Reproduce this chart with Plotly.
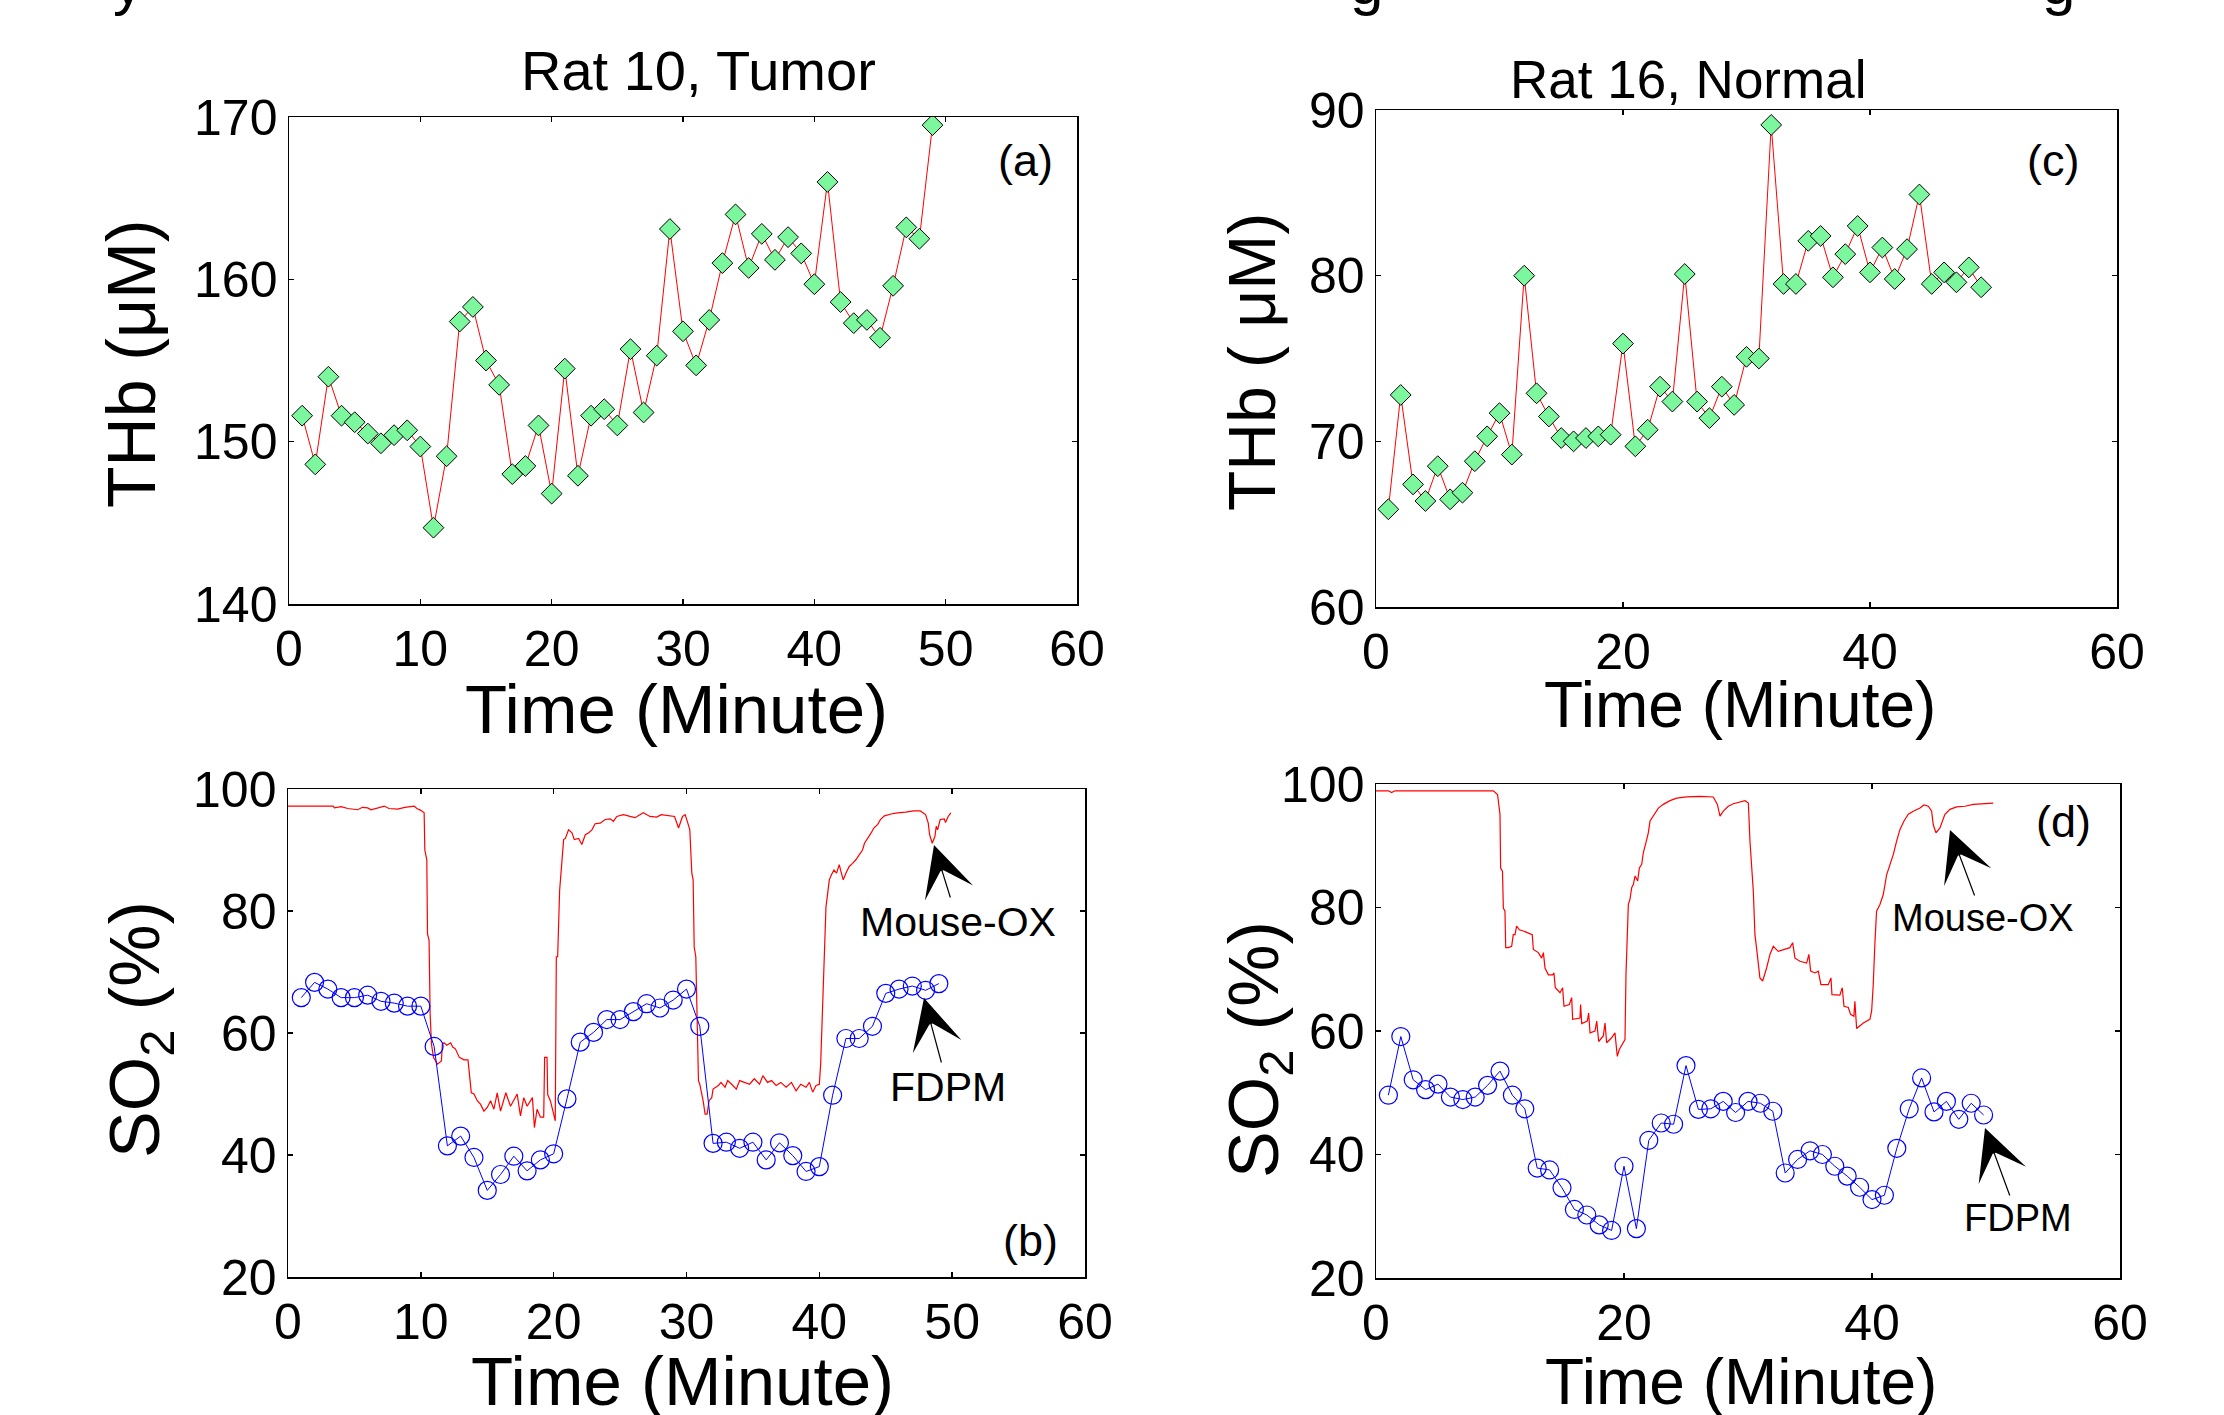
import plotly.graph_objects as go

W, H = 2224, 1415
FONT = "Liberation Sans, Arial, sans-serif"

# ---------------- data ----------------
minutes = [1, 2, 3, 4, 5, 6, 7, 8, 9, 10, 11, 12, 13, 14, 15, 16, 17, 18, 19, 20,
           21, 22, 23, 24, 25, 26, 27, 28, 29, 30, 31, 32, 33, 34, 35, 36, 37, 38, 39, 40,
           41, 42, 43, 44, 45, 46, 47, 48, 49]

thb_rat10_tumor = [151.6, 148.6, 154.0, 151.6, 151.2, 150.5, 149.9, 150.4, 150.7, 149.7,
                   144.7, 149.1, 157.4, 158.3, 155.0, 153.5, 148.0, 148.5, 151.0, 146.8,
                   154.5, 147.9, 151.6, 152.0, 151.0, 155.7, 151.8, 155.3, 163.1, 156.8,
                   154.7, 157.5, 161.0, 164.0, 160.7, 162.8, 161.2, 162.6, 161.6, 159.7,
                   166.0, 158.6, 157.3, 157.5, 156.4, 159.6, 163.2, 162.5, 169.5]

thb_rat16_normal = [65.9, 72.8, 67.4, 66.4, 68.5, 66.5, 66.9, 68.8, 70.3, 71.7,
                    69.2, 80.0, 72.9, 71.5, 70.2, 70.0, 70.2, 70.3, 70.4, 75.9,
                    69.7, 70.7, 73.3, 72.4, 80.1, 72.4, 71.4, 73.3, 72.2, 75.1,
                    75.0, 89.1, 79.5, 79.5, 82.1, 82.4, 79.9, 81.3, 83.0, 80.2,
                    81.7, 79.8, 81.6, 84.9, 79.5, 80.2, 79.6, 80.5, 79.3]

so2_fdpm_tumor = [65.8, 68.3, 67.2, 65.8, 65.8, 66.2, 65.2, 64.9, 64.4, 64.4,
                  57.8, 41.5, 43.1, 39.6, 34.2, 36.8, 39.8, 37.4, 39.2, 40.2,
                  49.2, 58.5, 60.1, 62.2, 62.2, 63.5, 64.8, 64.1, 65.4, 67.2,
                  61.1, 41.9, 42.1, 41.1, 42.1, 39.2, 42.0, 39.9, 37.3, 38.1,
                  49.8, 59.1, 59.1, 61.1, 66.5, 67.2, 67.7, 67.0, 68.1]

so2_fdpm_normal = [49.6, 59.1, 52.1, 50.5, 51.4, 49.3, 48.9, 49.3, 51.2, 53.5,
                   49.6, 47.4, 37.8, 37.5, 34.6, 31.1, 30.2, 28.6, 27.7, 38.1,
                   28.0, 42.3, 45.1, 44.9, 54.4, 47.3, 47.4, 48.6, 46.8, 48.6,
                   48.3, 47.0, 37.0, 39.2, 40.6, 40.0, 38.1, 36.5, 34.7, 32.7,
                   33.4, 41.0, 47.4, 52.4, 46.9, 48.6, 45.7, 48.3, 46.4]

oxim_tumor_time = [0.0, 3.4, 3.5, 4.0, 4.5, 5.25, 5.6, 6.0, 6.25, 6.7, 7.25, 7.6, 8.25, 8.8, 9.5,
                   9.7, 10.0, 10.25, 10.3, 10.45, 10.5, 10.62, 10.7, 10.8, 10.95, 11.25, 11.55,
                   11.62, 11.75, 11.95, 12.25, 12.4, 12.6, 12.9, 13.25, 13.55, 13.7, 13.8, 14.0,
                   14.25, 14.5, 14.75, 15.0, 15.25, 15.5, 15.75, 16.0, 16.4, 16.75, 17.25, 17.5,
                   17.75, 18.0, 18.4, 18.55, 18.75, 19.0, 19.25, 19.32, 19.5, 19.55, 19.75, 20.0,
                   20.12, 20.2, 20.3, 20.45, 20.62, 20.75, 20.88, 21.12, 21.38, 21.55, 21.88,
                   22.12, 22.38, 22.62, 22.88, 23.12, 23.5, 23.88, 24.25, 24.5, 24.75, 25.25,
                   25.75, 26.12, 26.75, 27.25, 27.75, 28.1, 29.1, 29.4, 29.7, 29.9, 30.1, 30.25,
                   30.4, 30.5, 30.58, 30.7, 30.9, 31.0, 31.25, 31.4, 31.55, 31.7, 31.9, 32.0,
                   32.4, 32.6, 32.9, 33.1, 33.4, 33.75, 34.0, 34.4, 34.75, 35.1, 35.5, 35.75,
                   36.1, 36.4, 36.75, 37.1, 37.5, 37.9, 38.25, 38.6, 39.0, 39.25, 39.5, 39.75,
                   40.0, 40.1, 40.25, 40.4, 40.5, 40.6, 40.75, 40.9, 41.1, 41.3, 41.5, 41.6,
                   41.8, 42.0, 42.25, 42.5, 42.75, 43.0, 43.25, 43.4, 43.6, 43.9, 44.1, 44.4,
                   44.6, 44.9, 45.4, 45.9, 46.5, 47.1, 47.6, 48.0, 48.2, 48.3, 48.5, 48.7,
                   48.8, 48.9, 49.1, 49.4, 49.5, 49.7, 49.9]
oxim_tumor_so2 = [97.2, 97.2, 96.9, 97.1, 96.8, 96.6, 97.0, 96.9, 96.6, 96.9, 97.2, 96.8, 96.7, 97.0, 97.2,
                  96.8, 96.5, 96.1, 90.0, 88.4, 76.3, 75.2, 63.2, 58.2, 56.0, 54.9, 55.4,
                  58.2, 58.4, 58.0, 58.4, 57.7, 57.4, 56.0, 55.6, 55.6, 52.2, 50.2, 50.0,
                  48.9, 48.3, 47.2, 47.8, 48.9, 47.5, 50.2, 47.2, 50.2, 48.0, 50.0, 46.4,
                  49.4, 48.0, 49.4, 44.5, 47.5, 46.2, 46.2, 56.0, 56.0, 49.9, 48.9, 46.7,
                  45.6, 72.5, 72.5, 83.4, 88.9, 91.7, 91.9, 93.3, 92.8, 91.7, 91.9,
                  90.9, 92.5, 92.8, 93.3, 94.3, 94.4, 95.0, 95.1, 94.7, 95.5, 95.8,
                  95.5, 95.3, 96.1, 95.5, 95.4, 95.8, 95.5, 93.6, 95.5, 95.8, 94.4, 93.3,
                  86.2, 85.1, 74.1, 72.5, 52.2, 51.6, 48.9, 46.7, 46.7, 48.9, 49.4, 50.8,
                  51.4, 51.9, 51.1, 52.2, 51.6, 50.8, 52.2, 51.9, 51.6, 52.5, 51.6, 53.0,
                  51.9, 52.2, 51.4, 51.9, 51.1, 51.9, 50.5, 51.6, 51.1, 51.9, 50.3, 51.4,
                  51.6, 54.9, 64.3, 76.9, 80.7, 82.4, 85.1, 85.9, 86.7, 86.2, 87.6, 86.7,
                  85.1, 86.2, 87.3, 87.8, 88.4, 89.2, 90.0, 91.1, 91.7, 92.8, 93.6, 94.2,
                  95.0, 95.6, 95.9, 96.1, 96.2, 96.4, 96.4, 95.8, 94.4, 92.5, 91.1, 92.2,
                  93.9, 93.3, 95.0, 95.1, 94.5, 95.5, 96.1]

oxim_normal_time = [0.0, 1.0, 1.26, 1.53, 9.46, 9.8, 10.0, 10.05, 10.2, 10.27, 10.4, 10.46, 10.67,
                    10.94, 11.07, 11.21, 11.34, 11.56, 11.88, 12.28, 12.6, 12.69, 13.09, 13.36,
                    13.5, 13.63, 13.9, 14.25, 14.35, 14.46, 14.84, 15.05, 15.16, 15.59, 15.78,
                    15.86, 16.45, 16.5, 16.59, 17.04, 17.15, 17.26, 17.66, 17.8, 17.96, 18.33,
                    18.47, 18.6, 19.0, 19.27, 19.35, 19.46, 19.62, 19.95, 20.08, 20.16, 20.27,
                    20.35, 20.48, 20.62, 20.75, 20.89, 21.1, 21.24, 21.43, 21.56, 21.77, 21.96,
                    22.1, 22.5, 22.77, 23.17, 23.71, 24.25, 25.05, 26.13, 27.2, 27.53, 27.74,
                    28.01, 28.41, 28.82, 29.35, 29.76, 30.03, 30.16, 30.43, 30.56, 30.75, 30.96,
                    31.18, 31.5, 31.77, 32.04, 32.44, 32.84, 33.38, 33.6, 33.79, 34.19, 34.73,
                    34.91, 35.05, 35.4, 35.67, 35.88, 36.47, 36.69, 36.77, 37.41, 37.6, 37.74,
                    38.09, 38.27, 38.54, 38.62, 38.76, 39.3, 39.83, 39.97, 40.1, 40.24, 40.37,
                    40.64, 40.91, 41.18, 41.45, 41.72, 41.98, 42.25, 42.58, 42.93, 43.33, 43.87,
                    44.19, 44.54, 44.81, 44.94, 45.16, 45.48, 45.88, 46.29, 46.82, 47.5, 48.17,
                    48.97, 49.78]
oxim_normal_so2 = [98.9, 98.9, 98.6, 98.9, 98.9, 98.3, 95.1, 86.4, 85.9, 79.9, 79.4, 73.5, 73.5,
                   73.7, 75.6, 75.6, 77.0, 76.4, 76.2, 75.9, 75.6, 73.2, 72.7, 71.8,
                   72.7, 70.2, 69.1, 69.1, 69.4, 67.0, 66.2, 67.0, 64.0, 64.3, 65.4,
                   61.9, 62.1, 64.3, 61.2, 61.6, 62.9, 59.7, 60.0, 61.6, 58.3, 59.2,
                   61.3, 58.1, 58.9, 59.7, 58.3, 55.9, 57.0, 58.3, 58.6, 69.1, 77.0,
                   80.5, 81.3, 83.2, 83.7, 85.1, 84.3, 86.4, 87.0, 88.9, 90.5, 92.1,
                   94.0, 95.2, 96.1, 96.7, 97.3, 97.7, 97.9, 98.0, 97.9, 96.7, 94.8,
                   95.6, 96.4, 96.8, 97.1, 97.3, 96.9, 90.7, 82.6, 75.6, 72.4, 68.6,
                   68.1, 70.2, 72.4, 73.7, 72.9, 73.2, 73.5, 74.3, 71.8, 71.3, 71.0,
                   72.4, 69.7, 69.4, 69.7, 67.5, 67.5, 68.6, 65.9, 65.8, 67.0, 64.0,
                   63.8, 62.7, 62.4, 64.8, 60.4, 61.3, 61.9, 63.2, 67.5, 74.5, 79.4,
                   80.5, 82.1, 85.3, 87.0, 88.6, 90.7, 92.6, 94.0, 95.1, 95.6, 96.1,
                   96.6, 96.4, 95.6, 93.4, 92.1, 92.9, 95.1, 95.9, 96.3, 96.4, 96.7,
                   96.8, 96.9]

x_ticks_a = [0, 10, 20, 30, 40, 50, 60]
x_ticks_c = [0, 20, 40, 60]
y_ticks_a = [140, 150, 160, 170]
y_ticks_c = [60, 70, 80, 90]
y_ticks_so2 = [20, 40, 60, 80, 100]

# ---------------- helpers ----------------
def px(x):
    return x / W

def py(y):
    return 1 - y / H

GREEN = "#7DF79E"

fig = go.Figure()

# (a) THb tumor
fig.add_trace(go.Scatter(x=minutes, y=thb_rat10_tumor, mode="lines+markers",
                         line=dict(color="#FF0000", width=1),
                         marker=dict(symbol="diamond", size=16, color=GREEN,
                                     line=dict(color="black", width=1)),
                         xaxis="x", yaxis="y", showlegend=False))
# (c) THb normal
fig.add_trace(go.Scatter(x=minutes, y=thb_rat16_normal, mode="lines+markers",
                         line=dict(color="#FF0000", width=1),
                         marker=dict(symbol="diamond", size=16, color=GREEN,
                                     line=dict(color="black", width=1)),
                         xaxis="x3", yaxis="y3", showlegend=False))
# (b) SO2 tumor
fig.add_trace(go.Scatter(x=oxim_tumor_time, y=oxim_tumor_so2, mode="lines",
                         line=dict(color="#FF0000", width=1.2),
                         xaxis="x2", yaxis="y2", showlegend=False))
fig.add_trace(go.Scatter(x=minutes, y=so2_fdpm_tumor, mode="lines+markers",
                         line=dict(color="#0000FF", width=1),
                         marker=dict(symbol="circle-open", size=18, color="#0000FF",
                                     line=dict(color="#0000FF", width=1.2)),
                         xaxis="x2", yaxis="y2", showlegend=False))
# (d) SO2 normal
fig.add_trace(go.Scatter(x=oxim_normal_time, y=oxim_normal_so2, mode="lines",
                         line=dict(color="#FF0000", width=1.2),
                         xaxis="x4", yaxis="y4", showlegend=False))
fig.add_trace(go.Scatter(x=minutes, y=so2_fdpm_normal, mode="lines+markers",
                         line=dict(color="#0000FF", width=1),
                         marker=dict(symbol="circle-open", size=18, color="#0000FF",
                                     line=dict(color="#0000FF", width=1.2)),
                         xaxis="x4", yaxis="y4", showlegend=False))

axis_common = dict(showline=True, linecolor="black", linewidth=1.5, mirror="allticks",
                   ticks="inside", ticklen=5, tickwidth=1.5, tickcolor="black",
                   showgrid=False, zeroline=False, automargin=False,
                   tickfont=dict(family=FONT, size=50, color="black"))

fig.update_layout(
    template="none",
    width=W, height=H,
    margin=dict(l=0, r=0, t=0, b=0, pad=0, autoexpand=False),
    paper_bgcolor="white", plot_bgcolor="white",
    showlegend=False,
    xaxis=dict(domain=[px(289), px(1077)], anchor="y", range=[0, 60],
               tickvals=x_ticks_a, **axis_common),
    yaxis=dict(domain=[py(604), py(117)], anchor="x", range=[140, 170],
               tickvals=y_ticks_a, **axis_common),
    xaxis2=dict(domain=[px(288), px(1085)], anchor="y2", range=[0, 60],
                tickvals=x_ticks_a, **axis_common),
    yaxis2=dict(domain=[py(1277), py(789)], anchor="x2", range=[20, 100],
                tickvals=y_ticks_so2, **axis_common),
    xaxis3=dict(domain=[px(1376), px(2117)], anchor="y3", range=[0, 60],
                tickvals=x_ticks_c, **axis_common),
    yaxis3=dict(domain=[py(607), py(110)], anchor="x3", range=[60, 90],
                tickvals=y_ticks_c, **axis_common),
    xaxis4=dict(domain=[px(1376), px(2120)], anchor="y4", range=[0, 60],
                tickvals=x_ticks_c, **axis_common),
    yaxis4=dict(domain=[py(1278), py(784)], anchor="x4", range=[20, 100],
                tickvals=y_ticks_so2, **axis_common),
)

ann = []

def text(t, x, y, size, angle=0):
    ann.append(dict(text=t, x=px(x), y=py(y), xref="paper", yref="paper",
                    xanchor="center", yanchor="middle", showarrow=False,
                    textangle=angle, font=dict(family=FONT, size=size, color="black")))

# descenders of the cut-off line above the figure
text("y", 128, -17, 60)
text("g", 1366, -17, 60)
text("g", 2058, -17, 60)

# panel titles
text("Rat 10, Tumor", 698, 70, 56)
text("Rat 16, Normal", 1688, 80, 53)

# axis titles
text("Time (Minute)", 676, 709, 69)
text("Time (Minute)", 1740, 705, 64)
text("Time (Minute)", 682, 1381, 69)
text("Time (Minute)", 1741, 1382, 64)
text("THb (μM)", 131, 364, 68, -90)
text("THb ( μM)", 1252, 362, 66, -90)
text("SO<sub>2</sub> (%)", 140, 1030, 70, -90)
text("SO<sub>2</sub> (%)", 1259, 1050, 70, -90)

# panel labels
text("(a)", 1025, 160, 45)
text("(b)", 1030, 1240, 45)
text("(c)", 2053, 160, 45)
text("(d)", 2063, 821, 45)

def arrow_label(t, tip, center, size):
    ann.append(dict(text=t, x=px(tip[0]), y=py(tip[1]), xref="paper", yref="paper",
                    showarrow=True, arrowhead=3, arrowsize=7, arrowwidth=1.2,
                    arrowcolor="black", ax=center[0] - tip[0], ay=center[1] - tip[1],
                    axref="pixel", ayref="pixel",
                    font=dict(family=FONT, size=size, color="black")))

arrow_label("Mouse-OX", (934, 845), (958, 922), 41)
arrow_label("FDPM", (924, 998), (948, 1087), 41)
arrow_label("Mouse-OX", (1950, 830), (1983, 918), 38)
arrow_label("FDPM", (1985, 1128), (2018, 1218), 38)

fig.update_layout(annotations=ann)

fig.write_html("out.html",
               config={"displayModeBar": False, "staticPlot": True},
               post_script="document.body.style.margin='0px';document.body.style.overflow='hidden';")
